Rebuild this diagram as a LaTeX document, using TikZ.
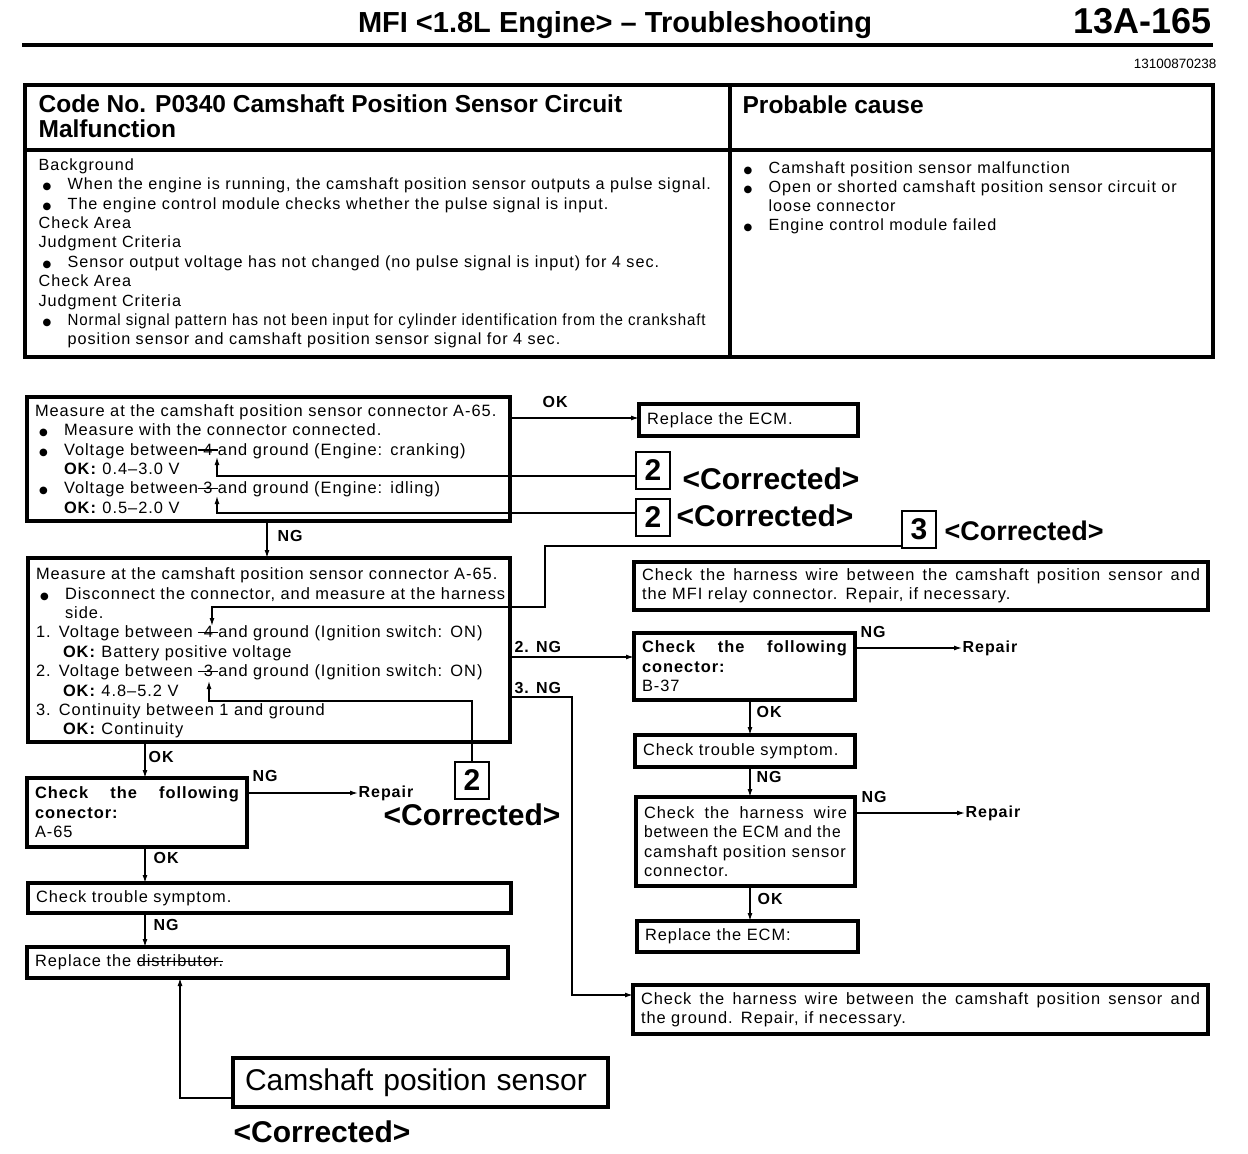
\documentclass[tikz,border=0pt]{standalone}
\usepackage{fontspec}
\setmainfont{Liberation Sans}
\newfontfamily\bodyfont{Liberation Sans}[LetterSpace=6.0]
\newfontfamily\symfont{DejaVu Sans}
\usetikzlibrary{arrows.meta}

\newcommand{\bu}{\makebox[29pt][l]{\hspace{4pt}{\symfont\fontsize{10}{10}\selectfont ●}}}
\newcommand{\ind}{\hspace*{29pt}}
\newcommand{\strk}[1]{\makebox[20pt]{\rlap{\rule[4.5pt]{20pt}{1.2pt}}\hfill#1\hfill}}
\newcommand{\strkw}[1]{\setbox0\hbox{#1}\rlap{\rule[4.5pt]{\wd0}{1.2pt}}\box0}
\newcommand{\jl}[2]{\makebox[#1][s]{\spaceskip=0.25em plus 1fil #2}}

\tikzset{
  box/.style={draw, line width=3.5pt, anchor=north west, outer sep=0pt, inner xsep=8pt, inner ysep=0pt,
    align=left, font=\bodyfont\fontsize{16.4}{19.4}\selectfont},
  num/.style={draw, line width=2pt, anchor=north west, outer sep=0pt, minimum width=34pt,
    minimum height=37pt, inner sep=0pt, font=\bfseries\fontsize{30}{30}\selectfont},
  corr/.style={anchor=west, inner sep=0pt, font=\bfseries\fontsize{30}{30}\selectfont},
  lbl/.style={anchor=west, inner sep=0pt, font=\bodyfont\bfseries\fontsize{16}{16}\selectfont},
}

\begin{document}
\begin{tikzpicture}[x=1pt, y=-1pt, line width=1.3pt, >={Latex[length=8pt,width=5pt]}]
  \useasboundingbox (0,0) rectangle (1248,1154);

  \node[anchor=base, inner sep=0pt, font=\bfseries\fontsize{29}{30}\selectfont] (title) at (615,32)
    {MFI <1.8L Engine> \textendash\ Troubleshooting};
  \node[anchor=base east, inner sep=0pt, font=\bfseries\fontsize{36}{36}\selectfont] (page) at (1212,33) {13A-165};
  \draw[line width=3.5pt] (22,45) -- (1213,45);
  \node[anchor=base east, inner sep=0pt, font=\fontsize{13.5}{13.5}\selectfont] (docno) at (1217,68) {13100870238};

  \draw[line width=3.5pt] (25,85) rectangle (1213,357) (730,85) -- (730,357) (25,150) -- (1213,150);
  \node[anchor=north west, inner sep=0pt, align=left, font=\bfseries\fontsize{24.5}{25}\selectfont] (code) at (38,94)
    {Code No. P0340 Camshaft Position Sensor Circuit\\Malfunction};
  \node[anchor=north west, inner sep=0pt, font=\bfseries\fontsize{24.5}{25}\selectfont] (cause) at (742,95) {Probable cause};
  \node[anchor=north west, inner sep=0pt, align=left, font=\bodyfont\fontsize{16.2}{19.4}\selectfont] (bg) at (38,158)
    {Background\\
     \bu When the engine is running, the camshaft position sensor outputs a pulse signal.\\
     \bu The engine control module checks whether the pulse signal is input.\\
     Check Area\\
     Judgment Criteria\\
     \bu Sensor output voltage has not changed (no pulse signal is input) for 4 sec.\\
     Check Area\\
     Judgment Criteria\\
     \bu \scalebox{0.93}[1]{Normal signal pattern has not been input for cylinder identification from the crankshaft}\\
     \ind position sensor and camshaft position sensor signal for 4 sec.};
  \node[anchor=north west, inner sep=0pt, align=left, font=\bodyfont\fontsize{16.2}{19}\selectfont] (causes) at (739,161)
    {\bu Camshaft position sensor malfunction\\
     \bu Open or shorted camshaft position sensor circuit or\\
     \ind loose connector\\
     \bu Engine control module failed};

  \node[box, text width=467pt, minimum height=124pt] (meas1) at (27,397)
    {Measure at the camshaft position sensor connector A-65.\\
     \bu Measure with the connector connected.\\
     \bu Voltage between\strk{4}and ground (Engine: cranking)\\
     \ind\textbf{OK:} 0.4\textendash 3.0 V\\
     \bu Voltage between\strk{3}and ground (Engine: idling)\\
     \ind\textbf{OK:} 0.5\textendash 2.0 V};
  \node[box, text width=203pt, minimum height=32pt] (ecm1) at (639,404) {Replace the ECM.};
  \node[box, text width=466pt, minimum height=184pt] (meas2) at (28,558)
    {\rule{0pt}{18pt}Measure at the camshaft position sensor connector A-65.\\
     \bu Disconnect the connector, and measure at the harness\\
     \ind side.\\
     1. Voltage between \strk{4}and ground (Ignition switch: ON)\\
     \hspace*{27pt}\textbf{OK:} Battery positive voltage\\
     2. Voltage between \strk{3}and ground (Ignition switch: ON)\\
     \hspace*{27pt}\textbf{OK:} 4.8\textendash 5.2 V\\
     3. Continuity between 1 and ground\\
     \hspace*{27pt}\textbf{OK:} Continuity};
  \node[box, text width=558pt, minimum height=48pt] (relay) at (634,562)
    {\jl{558pt}{Check the harness wire between the camshaft position sensor and}\\
     the MFI relay connector. Repair, if necessary.};
  \node[box, text width=205pt, minimum height=67pt] (conB) at (634,633)
    {\textbf{\jl{205pt}{Check the following}}\\\textbf{conector:}\\B-37};
  \node[box, text width=204pt, minimum height=32pt] (sym2) at (635,735) {Check trouble symptom.};
  \node[box, text width=203pt, minimum height=89pt] (harn) at (636,797)
    {\jl{203pt}{Check the harness wire}\\\scalebox{0.95}[1]{between the ECM and the}\\camshaft position sensor\\connector.};
  \node[box, text width=205pt, minimum height=31pt] (ecm2) at (637,921) {Replace the ECM:};
  \node[box, text width=559pt, minimum height=49pt] (gnd) at (633,985)
    {\jl{559pt}{Check the harness wire between the camshaft position sensor and}\\
     the ground. Repair, if necessary.};
  \node[box, text width=204pt, minimum height=69pt] (conA) at (27,778)
    {\textbf{\jl{204pt}{Check the following}}\\\textbf{conector:}\\A-65};
  \node[box, text width=467pt, minimum height=30pt] (sym1) at (28,883) {Check trouble symptom.};
  \node[box, text width=465pt, minimum height=31pt] (dist) at (27,947) {Replace the \strkw{distributor.}};
  \node[box, text width=351pt, inner xsep=12pt, minimum height=49pt, font=\fontsize{30}{30}\selectfont] (cam) at (233,1058)
    {Camshaft position sensor};
  \node[corr] (cam corr) at (233,1132) {<Corrected>};

  \node[num] (two a) at (636,452) {2};
  \node[corr] (two a corr) at (682,479) {<Corrected>};
  \node[num] (two b) at (636,499) {2};
  \node[corr] (two b corr) at (676,516) {<Corrected>};
  \node[num] (three) at (902,511) {3};
  \node[corr, font=\bfseries\fontsize{27}{27}\selectfont] (three corr) at (944,531) {<Corrected>};
  \node[num] (two c) at (455,762) {2};
  \node[corr] (two c corr) at (383,815) {<Corrected>};

  \node[lbl] (rep1) at (962,648) {Repair};
  \node[lbl] (rep2) at (965,813) {Repair};
  \node[lbl] (rep3) at (358,793) {Repair};

  \node[lbl] (ok1) at (542,402) {OK};
  \node[lbl] (ng1) at (277,536) {NG};
  \node[lbl] (ng2) at (514,647) {2. NG};
  \node[lbl] (ng3) at (514,688) {3. NG};
  \node[lbl] (ng4) at (860,632) {NG};
  \node[lbl] (ok2) at (756,712) {OK};
  \node[lbl] (ng5) at (756,777) {NG};
  \node[lbl] (ng6) at (861,797) {NG};
  \node[lbl] (ok3) at (757,899) {OK};
  \node[lbl] (ok4) at (148,757) {OK};
  \node[lbl] (ng7) at (252,776) {NG};
  \node[lbl] (ok5) at (153,858) {OK};
  \node[lbl] (ng8) at (153,925) {NG};

  \coordinate (lc) at (145,0);
  \coordinate (rc) at (750,0);
  \coordinate (dig1) at (217,457);
  \coordinate (dig2) at (217,496);
  \coordinate (dig3) at (212,626);
  \coordinate (dig4) at (209,681);

  \draw[->] (meas1.east |- 0,418) -- (ecm1.west |- 0,418);
  \draw[->] (two a.west |- 0,476) -| (dig1);
  \draw[->] (two b.west |- 0,513) -| (dig2);
  \draw[->] (three.west |- 0,546) -| (545,607) -| (dig3);
  \draw[->] (two c.north) |- (209,701) -- (dig4);

  \draw[->] (meas1.south -| 267,0) -- (meas2.north -| 267,0);
  \draw[->] (meas2.east |- 0,657) -- (conB.west |- 0,657);
  \draw[->] (meas2.east |- 0,697) -| (572,995) -- (gnd.west |- 0,995);

  \draw[->] (conB.east |- rep1.west) -- (rep1.west);
  \draw[->] (rc |- conB.south) -- (rc |- sym2.north);
  \draw[->] (rc |- sym2.south) -- (rc |- harn.north);
  \draw[->] (harn.east |- rep2.west) -- (rep2.west);
  \draw[->] (rc |- harn.south) -- (rc |- ecm2.north);

  \draw[->] (lc |- meas2.south) -- (lc |- conA.north);
  \draw[->] (conA.east |- rep3.west) -- (rep3.west);
  \draw[->] (lc |- conA.south) -- (lc |- sym1.north);
  \draw[->] (lc |- sym1.south) -- (lc |- dist.north);
  \draw[->] (cam.west |- 0,1098) -| (180,978);
\end{tikzpicture}
\end{document}
